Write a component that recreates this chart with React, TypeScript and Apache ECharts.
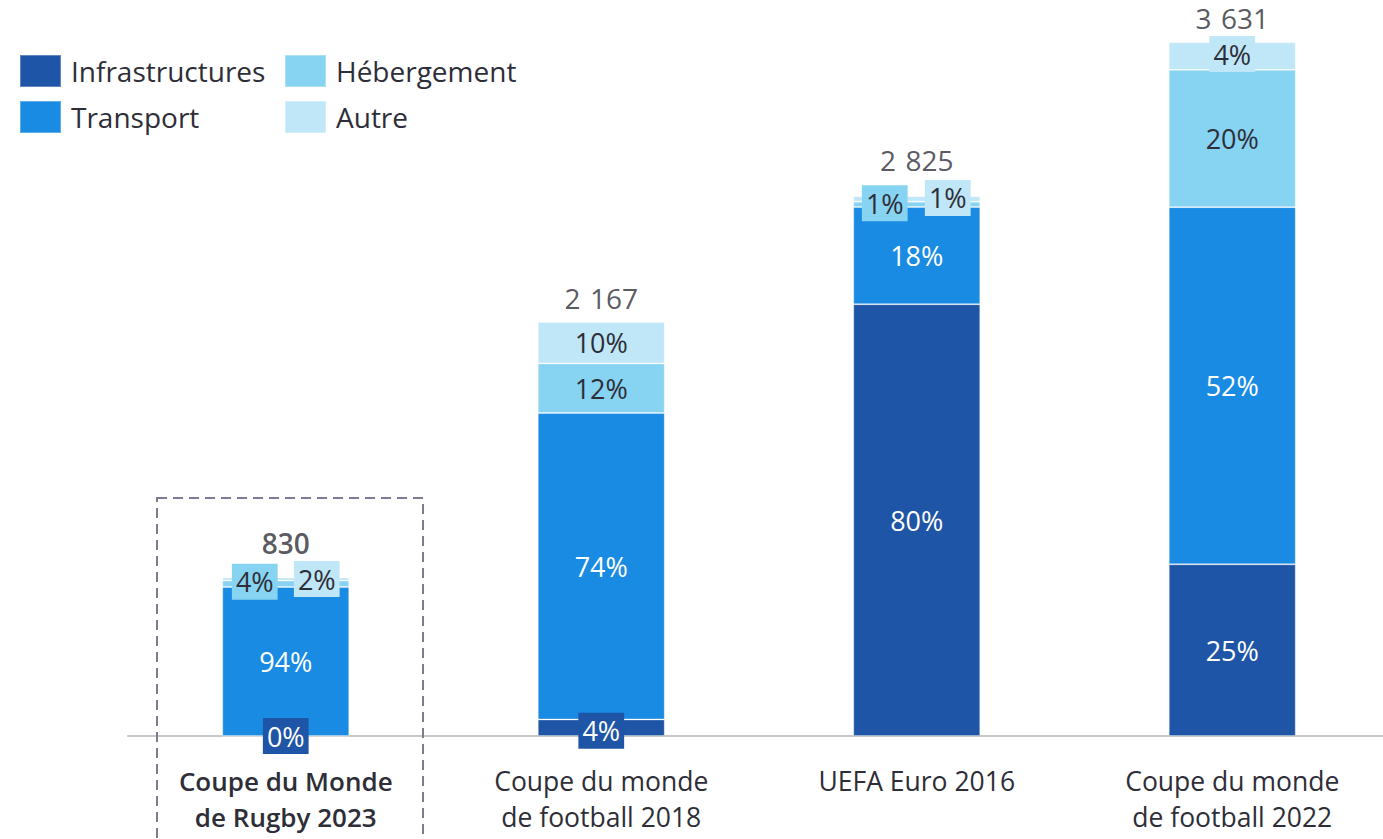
import React, { useEffect, useRef } from "react";
import * as echarts from "echarts";

const categories = [
  "Coupe du Monde\nde Rugby 2023",
  "Coupe du monde\nde football 2018",
  "UEFA Euro 2016",
  "Coupe du monde\nde football 2022",
];
const totals = [830, 2167, 2825, 3631];
const infrastructures = [0, 4, 80, 25];
const transport = [94, 74, 18, 52];
const hebergement = [4, 12, 1, 20];
const autre = [2, 10, 1, 4];
const seriesNames = ["Infrastructures", "Transport", "Hébergement", "Autre"];

const COLORS = ["#1f55a6", "#1a8be3", "#87d3f2", "#bfe7f7"];
const DARK = "#2e2e38";
const FONT = "Open Sans";

export default function App() {
  const ref = useRef<HTMLDivElement>(null);

  useEffect(() => {
    if (!ref.current) return;
    const chart = echarts.init(ref.current, null, { renderer: "svg" });
    const pcts = [infrastructures, transport, hebergement, autre];
    const sums = totals.map((_, i) => pcts.reduce((s, a) => s + a[i], 0));
    const textColors = ["#ffffff", "#ffffff", DARK, DARK];

    // boxed labels for thin segments: key "series-index"
    const boxed: Record<string, number[]> = {
      "0-0": [0, 0],
      "0-1": [0, 3],
      "2-0": [-31, -2],
      "3-0": [31, 0],
      "2-2": [-32, -1],
      "3-2": [31, -1],
      "3-3": [0, -2],
    };

    const barSeries = pcts.map((arr, s) => ({
      name: seriesNames[s],
      type: "bar",
      stack: "total",
      barWidth: 127,
      itemStyle: {
        color: COLORS[s],
        borderColor: "rgba(255,255,255,0.3)",
        borderWidth: 1,
      },
      data: arr.map((p, i) => {
        const key = s + "-" + i;
        const item: any = { value: (totals[i] * p) / sums[i] };
        if (boxed[key]) {
          item.label = {
            show: true,
            position: "inside",
            offset: boxed[key],
            backgroundColor: COLORS[s],
            padding: [4, 4, 2, 4],
            color: s === 0 ? "#ffffff" : DARK,
          };
        } else {
          item.label = { show: true, position: "inside", color: textColors[s] };
        }
        return item;
      }),
      label: {
        show: true,
        fontFamily: FONT,
        fontSize: 27,
        lineHeight: 30,
        formatter: (p: any) => arr[p.dataIndex] + "%",
      },
      z: 2,
    }));

    const totalDist = [20, 10, 22, 10];
    const totalSeries = {
      name: "Total",
      type: "scatter",
      symbolSize: 0,
      silent: true,
      data: totals.map((t, i) => ({
        value: t,
        label: {
          show: true,
          position: "top",
          distance: totalDist[i],
          fontWeight: i === 0 ? 600 : "normal",
        },
      })),
      label: {
        show: true,
        fontFamily: FONT,
        fontSize: 28,
        color: DARK,
        formatter: (p: any) =>
          String(totals[p.dataIndex]).replace(/\B(?=(\d{3})+(?!\d))/g, "\u2004"),
      },
      z: 5,
    };

    const legendPos = [
      [19, 54],
      [19, 100],
      [284, 54],
      [284, 100],
    ];

    chart.setOption({
      animation: false,
      textStyle: { fontFamily: FONT },
      grid: { left: 128, width: 1262, top: 10, bottom: 103, containLabel: false },
      legend: seriesNames.map((n, i) => ({
        data: [n],
        left: legendPos[i][0],
        top: legendPos[i][1],
        itemWidth: 41,
        itemHeight: 32,
        icon: "rect",
        padding: 0,
        selectedMode: false,
        textStyle: {
          fontFamily: FONT,
          fontSize: 28,
          color: DARK,
          padding: [0, 0, 0, 5],
        },
      })),
      xAxis: {
        type: "category",
        data: categories,
        axisLine: { lineStyle: { color: "#c8c8c8", width: 2 } },
        axisTick: { show: false },
        axisLabel: {
          fontFamily: FONT,
          fontSize: 26.5,
          lineHeight: 36,
          color: DARK,
          margin: 27,
          interval: 0,
          formatter: (v: string, idx: number) =>
            idx === 0
              ? v
                  .split("\n")
                  .map((l) => "{b|" + l + "}")
                  .join("\n")
              : v,
          rich: {
            b: { fontFamily: FONT, fontSize: 26, lineHeight: 36, fontWeight: 600, color: DARK },
          },
        },
      },
      yAxis: {
        type: "value",
        min: 0,
        max: 3800,
        show: false,
        splitLine: { show: false },
      },
      graphic: [
        {
          type: "rect",
          shape: { x: 157, y: 498, width: 266, height: 400 },
          style: { fill: "none", stroke: "#7d7b93", lineWidth: 2, lineDash: [10, 6] },
          z: 10,
          silent: true,
        },
      ],
      series: [...barSeries, totalSeries],
    });

    return () => chart.dispose();
  }, []);

  return (
    <div
      style={{
        position: "absolute",
        left: 0,
        top: 0,
        width: 1383,
        height: 839,
        overflow: "hidden",
      }}
    >
      <div ref={ref} style={{ width: 1400, height: 839 }} />
    </div>
  );
}
